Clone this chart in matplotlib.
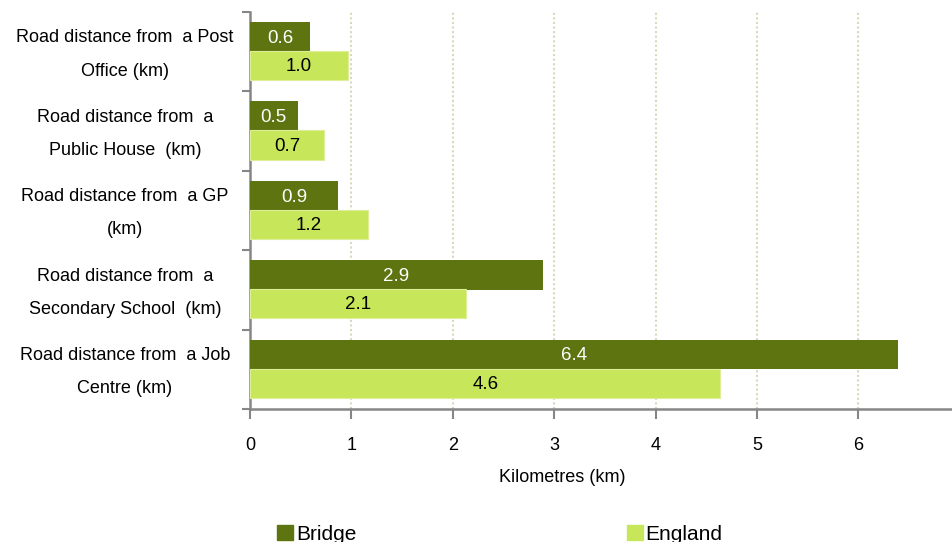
import matplotlib
matplotlib.use("Agg")
import matplotlib.pyplot as plt
import matplotlib.transforms as mtransforms
from matplotlib.patches import Patch
import numpy as np

categories = [
    "Road distance from  a Post\nOffice (km)",
    "Road distance from  a\nPublic House  (km)",
    "Road distance from  a GP\n(km)",
    "Road distance from  a\nSecondary School  (km)",
    "Road distance from  a Job\nCentre (km)",
]
bridge = [0.59, 0.47, 0.87, 2.89, 6.39]
england = [0.97, 0.73, 1.16, 2.13, 4.64]
series_names = ["Bridge", "England"]
xticks = [0, 1, 2, 3, 4, 5, 6]

dark = "#5E7411"
light = "#C8E65A"
axis_gray = "#868686"

plt.rcParams['font.family'] = ['Liberation Sans', 'DejaVu Sans']

fig = plt.figure(figsize=(9.53, 5.42), dpi=100)
ax = fig.add_axes([250/953, 1-409/542, 709.8/953, 397/542])

y = np.arange(len(categories))
h = 0.37
ax.barh(y - 0.19, bridge, height=h, color=dark, zorder=3)
ax.barh(y + 0.175, england, height=h, color=light, edgecolor="#DCEE98", linewidth=0.8, zorder=3)

for yi, v in zip(y, bridge):
    ax.text(v/2, yi - 0.17, f"{v:.1f}", ha='center', va='center', color='white', fontsize=13.5, zorder=4)
for yi, v in zip(y, england):
    ax.text(v/2, yi + 0.19, f"{v:.1f}", ha='center', va='center', color='black', fontsize=13.5, zorder=4)

ax.set_ylim(len(categories) - 0.5, -0.5)
ax.set_xlim(0, 7)

# category labels, centred in each group
ax.set_yticks(y)
ax.set_yticklabels([])
ax.tick_params(axis='y', which='major', length=0)
trans = mtransforms.blended_transform_factory(ax.transAxes, ax.transData)
for yi, lab in zip(y, categories):
    ax.text(-125/709.8, yi + 0.035, lab, transform=trans, ha='center', va='center',
            multialignment='center', linespacing=2.25, fontsize=13, clip_on=False)

ax.set_yticks(np.arange(-0.5, len(categories) + 0.5, 1), minor=True)
ax.tick_params(axis='y', which='minor', length=6, width=1.5, color=axis_gray, direction='out')

ax.set_xticks(xticks)
ax.set_xticklabels([str(t) for t in xticks], fontsize=13)
ax.tick_params(axis='x', length=7, width=1.5, color=axis_gray, direction='out', pad=13)

for gx in xticks[1:]:
    ax.axvline(gx, color="#DAD7BA", linestyle=(0, (1, 1.2)), linewidth=1.5, zorder=1)

for s in ['top', 'right']:
    ax.spines[s].set_visible(False)
for s in ['left', 'bottom']:
    ax.spines[s].set_color(axis_gray)
    ax.spines[s].set_linewidth(1.8)

ax.set_xlabel("Kilometres (km)", fontsize=13)
ax.xaxis.set_label_coords(0.44, -0.15)

handles = [Patch(color=dark), Patch(color=light)]
fig.legend(handles, series_names, loc='center left', ncol=2, frameon=False,
           bbox_to_anchor=(277/953, 1-534/542), fontsize=15,
           handlelength=0.75, handleheight=0.75, handletextpad=0.15,
           columnspacing=13.0, borderpad=0, borderaxespad=0)

fig.savefig("out.png", dpi=100)
